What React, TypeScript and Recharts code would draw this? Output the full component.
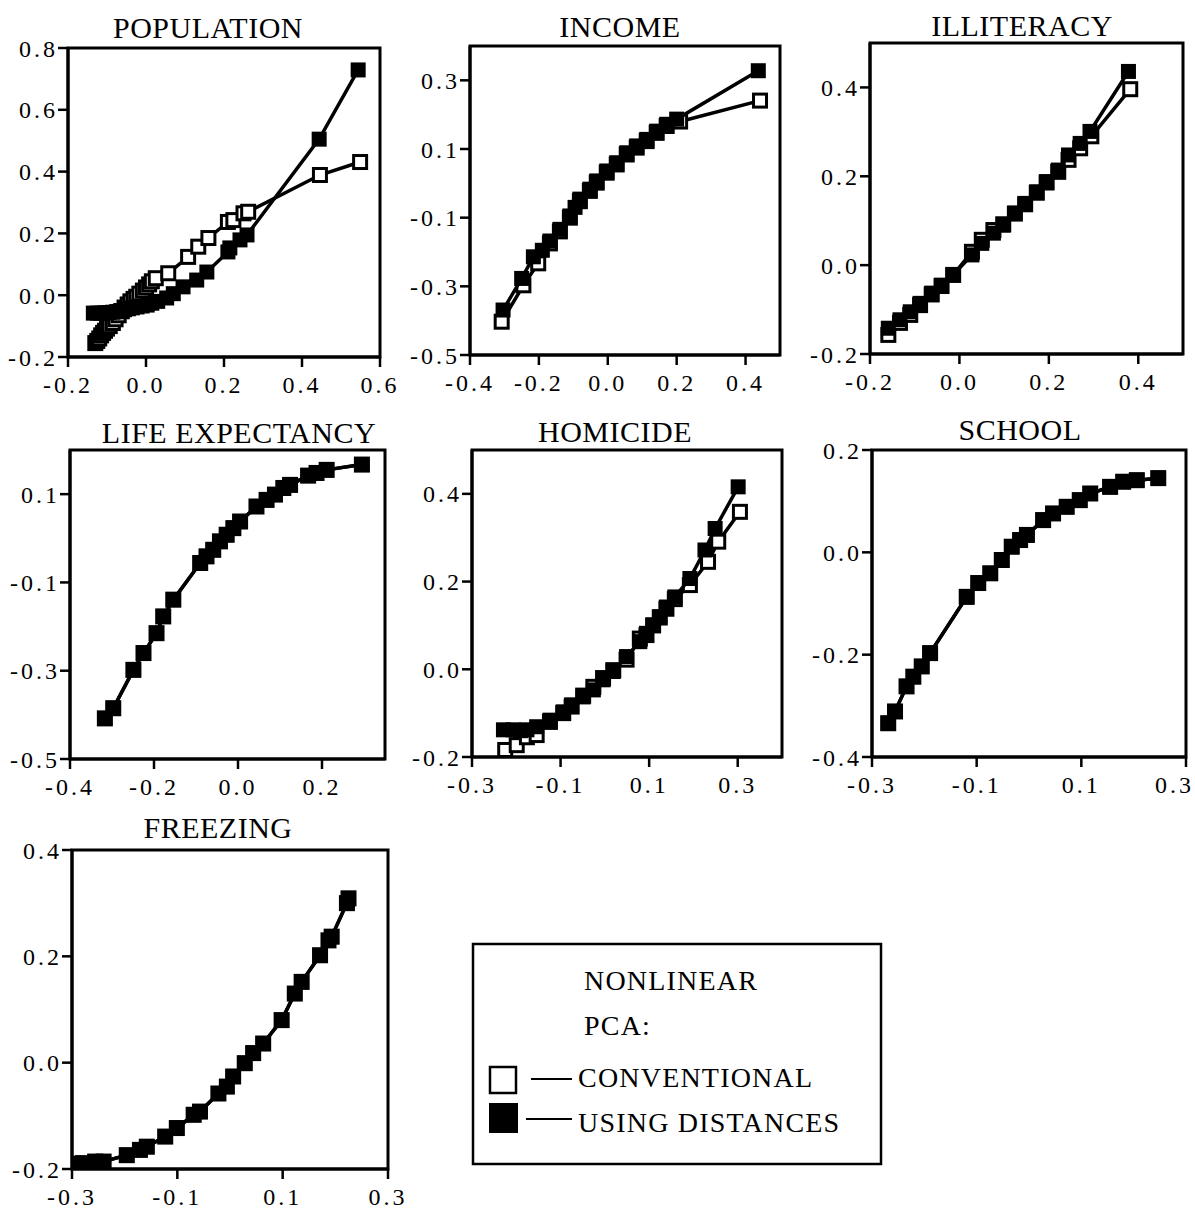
import React from "react";
import { ScatterChart, Scatter, XAxis, YAxis, ReferenceArea } from "recharts";

type Pt = [number, number];

// [x, y] pairs, sorted by x
const POP_CONV: Pt[] = [
  [-0.13, -0.155], [-0.125, -0.148], [-0.12, -0.14], [-0.115, -0.13], [-0.11, -0.122],
  [-0.105, -0.115], [-0.1, -0.108], [-0.093, -0.1], [-0.085, -0.09], [-0.078, -0.078],
  [-0.07, -0.065], [-0.062, -0.052], [-0.055, -0.04], [-0.047, -0.03], [-0.04, -0.02],
  [-0.032, -0.012], [-0.025, -0.005], [-0.017, 0.005], [-0.008, 0.015], [0, 0.025],
  [0.008, 0.035], [0.015, 0.045], [0.025, 0.055], [0.057, 0.071], [0.108, 0.124],
  [0.134, 0.157], [0.16, 0.185], [0.21, 0.237], [0.224, 0.243], [0.25, 0.265],
  [0.262, 0.27], [0.446, 0.389], [0.549, 0.431],
];
const POP_DIST: Pt[] = [
  [-0.135, -0.058], [-0.125, -0.058], [-0.115, -0.058], [-0.105, -0.057], [-0.095, -0.056],
  [-0.085, -0.055], [-0.075, -0.053], [-0.065, -0.05], [-0.055, -0.047], [-0.045, -0.044],
  [-0.035, -0.041], [-0.023, -0.038], [-0.01, -0.035], [0.003, -0.032], [0.015, -0.026],
  [0.03, -0.02], [0.053, -0.009], [0.07, 0.005], [0.095, 0.027], [0.13, 0.049],
  [0.156, 0.075], [0.21, 0.14], [0.215, 0.153], [0.241, 0.179], [0.259, 0.195],
  [0.444, 0.505], [0.544, 0.729],
];

const INC_CONV: Pt[] = [
  [-0.308, -0.403], [-0.245, -0.297], [-0.202, -0.233], [-0.168, -0.175], [-0.139, -0.14],
  [-0.11, -0.1], [-0.081, -0.052], [-0.052, -0.022], [-0.032, 0.002], [-0.003, 0.031],
  [0.026, 0.055], [0.055, 0.084], [0.084, 0.104], [0.113, 0.123], [0.142, 0.147],
  [0.171, 0.167], [0.21, 0.18], [0.442, 0.241],
];
const INC_DIST: Pt[] = [
  [-0.304, -0.369], [-0.25, -0.277], [-0.216, -0.214], [-0.19, -0.195], [-0.168, -0.168],
  [-0.139, -0.134], [-0.11, -0.095], [-0.095, -0.07], [-0.081, -0.046], [-0.052, -0.017],
  [-0.032, 0.007], [-0.003, 0.036], [0.026, 0.06], [0.055, 0.089], [0.084, 0.109],
  [0.113, 0.128], [0.142, 0.152], [0.171, 0.172], [0.2, 0.187], [0.437, 0.328],
];

const ILL_CONV: Pt[] = [
  [-0.159, -0.157], [-0.133, -0.13], [-0.11, -0.112], [-0.088, -0.09], [-0.062, -0.066],
  [-0.04, -0.047], [-0.014, -0.022], [0.028, 0.03], [0.05, 0.057], [0.076, 0.079],
  [0.098, 0.092], [0.124, 0.116], [0.147, 0.137], [0.173, 0.163], [0.195, 0.186],
  [0.221, 0.21], [0.244, 0.237], [0.27, 0.263], [0.295, 0.29], [0.382, 0.396],
];
const ILL_DIST: Pt[] = [
  [-0.159, -0.142], [-0.133, -0.123], [-0.11, -0.105], [-0.088, -0.086], [-0.062, -0.063],
  [-0.04, -0.045], [-0.014, -0.022], [0.028, 0.023], [0.05, 0.049], [0.076, 0.072],
  [0.098, 0.09], [0.124, 0.117], [0.147, 0.139], [0.173, 0.165], [0.195, 0.188],
  [0.221, 0.214], [0.244, 0.248], [0.27, 0.274], [0.292, 0.301], [0.378, 0.436],
];

const LIFE_DIST: Pt[] = [
  [-0.317, -0.408], [-0.297, -0.385], [-0.249, -0.298], [-0.225, -0.26], [-0.194, -0.215],
  [-0.178, -0.177], [-0.154, -0.139], [-0.09, -0.056], [-0.075, -0.041], [-0.059, -0.026],
  [-0.043, -0.007], [-0.027, 0.008], [-0.011, 0.023], [0.005, 0.038], [0.044, 0.072],
  [0.068, 0.087], [0.088, 0.099], [0.108, 0.114], [0.124, 0.121], [0.167, 0.142],
  [0.187, 0.148], [0.211, 0.155], [0.295, 0.167],
];

const HOM_CONV: Pt[] = [
  [-0.225, -0.184], [-0.199, -0.173], [-0.176, -0.155], [-0.154, -0.15], [-0.124, -0.12],
  [-0.094, -0.1], [-0.075, -0.085], [-0.049, -0.06], [-0.026, -0.04], [-0.004, -0.02],
  [0.019, -0.002], [0.049, 0.022], [0.079, 0.07], [0.094, 0.078], [0.109, 0.1],
  [0.124, 0.118], [0.139, 0.138], [0.158, 0.16], [0.192, 0.192], [0.233, 0.245],
  [0.256, 0.291], [0.305, 0.359],
];
const HOM_DIST: Pt[] = [
  [-0.229, -0.138], [-0.207, -0.138], [-0.19, -0.14], [-0.176, -0.138], [-0.154, -0.131],
  [-0.124, -0.116], [-0.094, -0.097], [-0.075, -0.081], [-0.049, -0.063], [-0.026, -0.047],
  [-0.004, -0.024], [0.019, -0.005], [0.049, 0.029], [0.079, 0.063], [0.094, 0.082],
  [0.109, 0.101], [0.124, 0.12], [0.139, 0.142], [0.158, 0.165], [0.192, 0.207],
  [0.226, 0.272], [0.249, 0.321], [0.301, 0.416],
];

const SCH_DIST: Pt[] = [
  [-0.269, -0.334], [-0.256, -0.311], [-0.234, -0.262], [-0.221, -0.243], [-0.205, -0.223],
  [-0.189, -0.197], [-0.119, -0.087], [-0.097, -0.06], [-0.074, -0.041], [-0.052, -0.015],
  [-0.033, 0.011], [-0.017, 0.024], [-0.004, 0.034], [0.027, 0.063], [0.046, 0.076],
  [0.072, 0.089], [0.097, 0.102], [0.117, 0.115], [0.155, 0.128], [0.18, 0.138],
  [0.206, 0.141], [0.247, 0.145],
];

const FRZ_DIST: Pt[] = [
  [-0.295, -0.19], [-0.279, -0.189], [-0.256, -0.186], [-0.24, -0.186], [-0.196, -0.174],
  [-0.171, -0.164], [-0.158, -0.158], [-0.123, -0.139], [-0.101, -0.123], [-0.069, -0.098],
  [-0.057, -0.092], [-0.022, -0.058], [-0.006, -0.045], [0.006, -0.026], [0.028, -0.001],
  [0.044, 0.018], [0.063, 0.036], [0.098, 0.08], [0.123, 0.13], [0.136, 0.152],
  [0.171, 0.202], [0.187, 0.23], [0.193, 0.237], [0.222, 0.3], [0.225, 0.309],
];

const LEGEND_LINES = ["NONLINEAR", "PCA:", "CONVENTIONAL", "USING DISTANCES"];

const FONT = "'Liberation Serif', 'Times New Roman', serif";

const fmt = (v: number) => v.toFixed(1);
const toRows = (pts: Pt[]) => pts.map(([x, y]) => ({ x, y }));

const OpenSquare = (props: any) => {
  const { cx, cy } = props;
  if (cx == null || cy == null) return null;
  return <rect x={cx - 6.5} y={cy - 6.5} width={13} height={13} fill="#fff" stroke="#000" strokeWidth={3} />;
};

const FilledSquare = (props: any) => {
  const { cx, cy } = props;
  if (cx == null || cy == null) return null;
  return <rect x={cx - 7.5} y={cy - 7.5} width={15} height={15} fill="#000" />;
};

const tickText = { fontFamily: FONT, fontSize: 24, fill: "#000", letterSpacing: "3px" };

const XTick = (props: any) => {
  const { x, y, payload, index, visibleTicksCount, lastEnd } = props;
  const atEdge = lastEnd && index === visibleTicksCount - 1;
  return (
    <text x={atEdge ? x + 8 : x} y={y} dy="0.71em" textAnchor={atEdge ? "end" : "middle"} style={tickText}>
      {fmt(payload.value)}
    </text>
  );
};

const YTick = (props: any) => {
  const { x, y, payload } = props;
  return (
    <text x={x} y={y} dy="0.36em" textAnchor="end" style={tickText}>
      {fmt(payload.value)}
    </text>
  );
};

interface PanelProps {
  box: [number, number, number, number];
  xDomain: [number, number];
  yDomain: [number, number];
  xTicks: number[];
  yTicks: number[];
  conv: Pt[];
  dist: Pt[];
  lastEnd?: boolean;
}

function Panel({ box, xDomain, yDomain, xTicks, yTicks, conv, dist, lastEnd }: PanelProps) {
  const [l, t, r, b] = box;
  const padL = 80, padT = 12, padR = 34, padB = 50;
  const axisLine = { stroke: "#000", strokeWidth: 3 };
  const tickLine = { stroke: "#000", strokeWidth: 2.5 };
  const line = { stroke: "#000", strokeWidth: 3.5 };
  return (
    <div style={{ position: "absolute", left: l - padL, top: t - padT }}>
      <ScatterChart
        width={r - l + padL + padR}
        height={b - t + padT + padB}
        margin={{ top: padT, right: padR, left: 0, bottom: 0 }}
        style={{ overflow: "visible" }}
      >
        <XAxis
          type="number"
          dataKey="x"
          domain={xDomain}
          ticks={xTicks}
          interval={0}
          allowDataOverflow
          height={padB}
          tickSize={10}
          tickMargin={9}
          axisLine={axisLine}
          tickLine={tickLine}
          tick={<XTick lastEnd={lastEnd} />}
        />
        <YAxis
          type="number"
          dataKey="y"
          domain={yDomain}
          ticks={yTicks}
          interval={0}
          allowDataOverflow
          width={padL}
          tickSize={10}
          tickMargin={0}
          axisLine={axisLine}
          tickLine={tickLine}
          tick={<YTick />}
        />
        <ReferenceArea
          x1={xDomain[0]}
          x2={xDomain[1]}
          y1={yDomain[0]}
          y2={yDomain[1]}
          fill="none"
          stroke="#000"
          strokeWidth={3}
        />
        <Scatter data={toRows(conv)} shape={OpenSquare} line={line} isAnimationActive={false} />
        <Scatter data={toRows(dist)} shape={FilledSquare} line={line} isAnimationActive={false} />
      </ScatterChart>
    </div>
  );
}

const titles: { text: string; x: number; y: number }[] = [
  { text: "POPULATION", x: 208, y: 38 },
  { text: "INCOME", x: 620, y: 37 },
  { text: "ILLITERACY", x: 1022, y: 36 },
  { text: "LIFE EXPECTANCY", x: 239, y: 443 },
  { text: "HOMICIDE", x: 615, y: 442 },
  { text: "SCHOOL", x: 1020, y: 440 },
  { text: "FREEZING", x: 218, y: 838 },
];

export default function App() {
  return (
    <div style={{ position: "absolute", left: 0, top: 0, width: 1195, height: 1214, background: "#fff", overflow: "hidden" }}>
      <Panel box={[68, 48, 380, 357]} xDomain={[-0.2, 0.6]} yDomain={[-0.2, 0.8]}
        xTicks={[-0.2, 0, 0.2, 0.4, 0.6]} yTicks={[-0.2, 0, 0.2, 0.4, 0.6, 0.8]}
        conv={POP_CONV} dist={POP_DIST} />
      <Panel box={[470, 46, 780, 355]} xDomain={[-0.4, 0.5]} yDomain={[-0.5, 0.4]}
        xTicks={[-0.4, -0.2, 0, 0.2, 0.4]} yTicks={[-0.5, -0.3, -0.1, 0.1, 0.3]}
        conv={INC_CONV} dist={INC_DIST} />
      <Panel box={[870, 43, 1183, 354]} xDomain={[-0.2, 0.5]} yDomain={[-0.2, 0.5]}
        xTicks={[-0.2, 0, 0.2, 0.4]} yTicks={[-0.2, 0, 0.2, 0.4]}
        conv={ILL_CONV} dist={ILL_DIST} />
      <Panel box={[70, 450, 385, 759]} xDomain={[-0.4, 0.35]} yDomain={[-0.5, 0.2]}
        xTicks={[-0.4, -0.2, 0, 0.2]} yTicks={[-0.5, -0.3, -0.1, 0.1]}
        conv={LIFE_DIST} dist={LIFE_DIST} />
      <Panel box={[472, 450, 782, 757]} xDomain={[-0.3, 0.4]} yDomain={[-0.2, 0.5]}
        xTicks={[-0.3, -0.1, 0.1, 0.3]} yTicks={[-0.2, 0, 0.2, 0.4]}
        conv={HOM_CONV} dist={HOM_DIST} />
      <Panel box={[872, 450, 1186, 757]} xDomain={[-0.3, 0.3]} yDomain={[-0.4, 0.2]}
        xTicks={[-0.3, -0.1, 0.1, 0.3]} yTicks={[-0.4, -0.2, 0, 0.2]}
        conv={SCH_DIST} dist={SCH_DIST} lastEnd />
      <Panel box={[72, 850, 388, 1169]} xDomain={[-0.3, 0.3]} yDomain={[-0.2, 0.4]}
        xTicks={[-0.3, -0.1, 0.1, 0.3]} yTicks={[-0.2, 0, 0.2, 0.4]}
        conv={FRZ_DIST} dist={FRZ_DIST} />

      <svg width={1195} height={1214} style={{ position: "absolute", left: 0, top: 0, pointerEvents: "none" }}>
        {titles.map((t) => (
          <text key={t.text} x={t.x} y={t.y} textAnchor="middle"
            style={{ fontFamily: FONT, fontSize: 30, fill: "#000", letterSpacing: "0.5px" }}>
            {t.text}
          </text>
        ))}
        <rect x={473} y={944} width={408} height={220} fill="none" stroke="#000" strokeWidth={2.5} />
        <rect x={490} y={1067} width={26} height={26} fill="#fff" stroke="#000" strokeWidth={2.5} />
        <line x1={531} x2={572} y1={1079} y2={1079} stroke="#000" strokeWidth={2} />
        <rect x={489} y={1103} width={29} height={30} fill="#000" />
        <line x1={526} x2={572} y1={1119} y2={1119} stroke="#000" strokeWidth={2} />
        {LEGEND_LINES.map((s, i) => (
          <text key={s} x={i < 2 ? 584 : 578} y={[990, 1035, 1087, 1132][i]}
            style={{ fontFamily: FONT, fontSize: 28, fill: "#000", letterSpacing: "1.2px" }}>
            {s}
          </text>
        ))}
      </svg>
    </div>
  );
}
